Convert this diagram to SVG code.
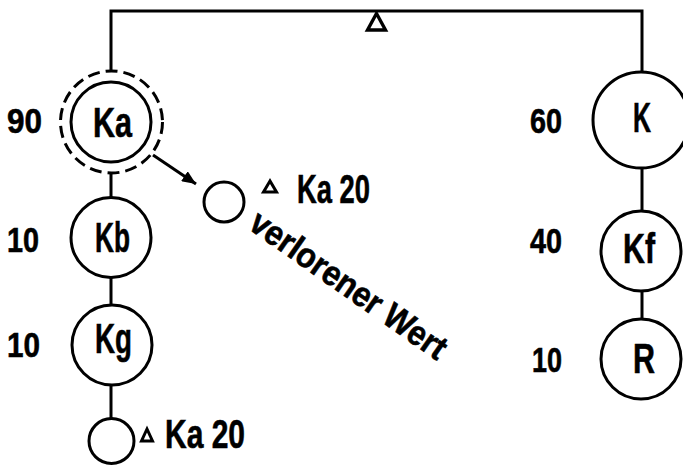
<svg xmlns="http://www.w3.org/2000/svg" width="683" height="467" viewBox="0 0 683 467">
  <defs>
    <style>
      .ln { fill: none; stroke: #000; stroke-width: 3; }
      .nd { fill: #fff; stroke: #000; stroke-width: 3; }
      .ring { fill: none; stroke: #000; stroke-width: 3; stroke-dasharray: 12 6; }
      .tri { fill: none; stroke: #000; stroke-width: 3; stroke-linejoin: miter; }
      .t { font-family: "Liberation Sans Narrow", "Liberation Sans", "DejaVu Sans Condensed", sans-serif; font-weight: bold; fill: #000; stroke: #000; stroke-width: 0.6; }
      .num { font-size: 35px; }
      .lbl { font-size: 43px; }
      .note { font-size: 41px; }
      .slant { font-size: 35px; }
    </style>
    <marker id="arrowhead" viewBox="0 0 14 12" refX="14" refY="6" markerWidth="14" markerHeight="12" markerUnits="userSpaceOnUse" orient="auto">
      <path d="M0,0 L14,6 L0,12 Z" fill="#000"/>
    </marker>
  </defs>

  <!-- connectors -->
  <g id="connectors">
    <path class="ln" d="M111,70 V11 H642 V72"/>
    <polygon class="tri" points="376.5,13.5 367.5,30 385.5,30" style="stroke-width:3.4"/>
    <line class="ln" x1="111" y1="173" x2="111" y2="197"/>
    <line class="ln" x1="111" y1="278" x2="111" y2="305"/>
    <line class="ln" x1="111" y1="385" x2="111" y2="418"/>
    <line class="ln" x1="642" y1="168" x2="642" y2="211"/>
    <line class="ln" x1="642" y1="291" x2="642" y2="319"/>
    <line class="ln" x1="153" y1="155" x2="196" y2="184" marker-end="url(#arrowhead)"/>
  </g>

  <!-- left chain -->
  <g id="node-ka">
    <circle class="ring" cx="111.5" cy="122" r="51"/>
    <circle class="nd" cx="111" cy="122" r="40"/>
    <text class="t lbl" x="93" y="137" textLength="39" lengthAdjust="spacingAndGlyphs">Ka</text>
    <text class="t num" x="7" y="133" textLength="35" lengthAdjust="spacingAndGlyphs">90</text>
  </g>
  <g id="node-kb">
    <circle class="nd" cx="111" cy="237.5" r="40"/>
    <text class="t lbl" x="95" y="252" textLength="35" lengthAdjust="spacingAndGlyphs">Kb</text>
    <text class="t num" x="7" y="252" textLength="32" lengthAdjust="spacingAndGlyphs">10</text>
  </g>
  <g id="node-kg">
    <circle class="nd" cx="112" cy="345" r="40"/>
    <text class="t lbl" x="95" y="353" textLength="37" lengthAdjust="spacingAndGlyphs">Kg</text>
    <text class="t num" x="7" y="357" textLength="33" lengthAdjust="spacingAndGlyphs">10</text>
  </g>
  <g id="node-rest">
    <circle class="nd" cx="111.5" cy="441" r="22.5"/>
    <polygon class="tri" points="147,429 141.5,441 152.5,441"/>
    <text class="t note" x="165" y="448" textLength="80" lengthAdjust="spacingAndGlyphs">Ka 20</text>
  </g>

  <!-- lost value -->
  <g id="node-lost">
    <circle class="nd" cx="224" cy="202" r="20"/>
    <polygon class="tri" points="270,181 263.5,192 276.5,192"/>
    <text class="t note" x="297" y="203" textLength="73" lengthAdjust="spacingAndGlyphs">Ka 20</text>
    <text class="t slant" transform="translate(247,228) rotate(35)" x="0" y="0" textLength="232" lengthAdjust="spacingAndGlyphs">verlorener Wert</text>
  </g>

  <!-- right chain -->
  <g id="node-k">
    <circle class="nd" cx="641" cy="120" r="48"/>
    <text class="t lbl" x="633" y="132" textLength="18" lengthAdjust="spacingAndGlyphs">K</text>
    <text class="t num" x="530" y="133" textLength="32" lengthAdjust="spacingAndGlyphs">60</text>
  </g>
  <g id="node-kf">
    <circle class="nd" cx="641" cy="251" r="40"/>
    <text class="t lbl" x="623" y="263" textLength="32" lengthAdjust="spacingAndGlyphs">Kf</text>
    <text class="t num" x="530" y="253" textLength="32" lengthAdjust="spacingAndGlyphs">40</text>
  </g>
  <g id="node-r">
    <circle class="nd" cx="641" cy="359" r="40"/>
    <text class="t lbl" x="633" y="373" textLength="22" lengthAdjust="spacingAndGlyphs">R</text>
    <text class="t num" x="532" y="372" textLength="30" lengthAdjust="spacingAndGlyphs">10</text>
  </g>
</svg>
